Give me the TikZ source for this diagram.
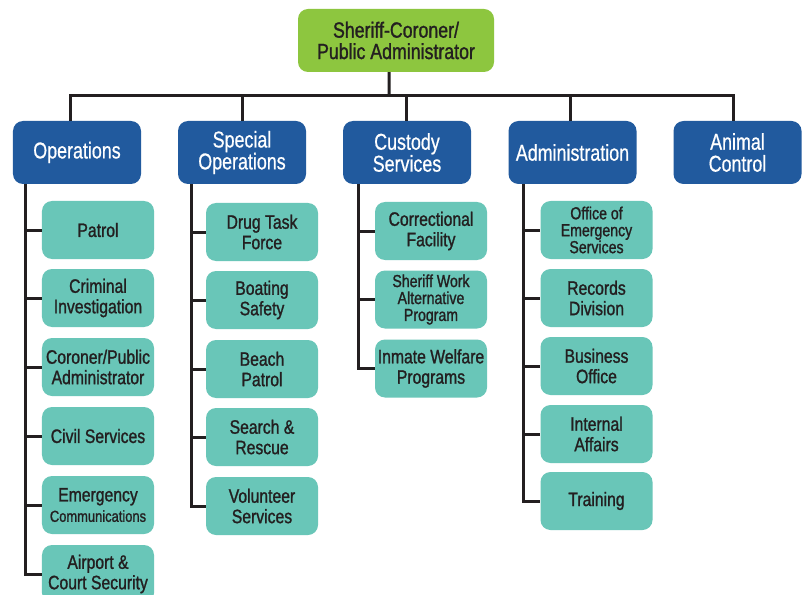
\documentclass[tikz,border=0pt]{standalone}
\usepackage{fontspec}
\setmainfont{Liberation Sans}
\newfontfamily\chfont[FakeStretch=0.81, FakeBold=1.2]{Liberation Sans}
\newfontfamily\hdfont[FakeStretch=0.78, FakeBold=0.6]{Liberation Sans}

\definecolor{verde}{HTML}{8DC63F}
\definecolor{azul}{HTML}{215A9E}
\definecolor{turquesa}{HTML}{69C6B8}
\definecolor{traco}{HTML}{231F20}

\tikzset{
  chefe/.style={fill=verde, rounded corners=10bp, minimum width=196bp, minimum height=63bp,
    inner sep=0pt, align=center, text=traco, font={\chfont\fontsize{22}{21.5}\selectfont}},
  setor/.style={fill=azul, text=white, rounded corners=10bp, minimum width=128bp, minimum height=63bp,
    inner sep=0pt, align=center, font={\hdfont\fontsize{23}{22}\selectfont}},
  unidade/.style={fill=turquesa, rounded corners=10bp, minimum width=112bp, minimum height=58bp,
    inner sep=0pt, align=center, text=traco, font={\chfont\fontsize{19.5}{20.5}\selectfont}},
  miudo/.style={font={\chfont\fontsize{17.5}{17}\selectfont}},
  liga/.style={line width=3bp, draw=traco}
}

\begin{document}
\begin{tikzpicture}[x=1bp, y=-1bp]

\useasboundingbox[fill=white] (0,0) rectangle (803,595);

% Chefia
\node[chefe] (topo) at (396,40.5) {Sheriff-Coroner/\\Public Administrator};

% Setores
\node[setor] (op) at (77,152.5) {Operations};
\node[setor] (so) at (242,152.5) {Special\\Operations};
\node[setor] (cs) at (407,152.5) {Custody\\Services};
\node[setor] (ad) at (572.5,152.5) {Administration};
\node[setor] (ac) at (737.5,152.5) {Animal\\Control};

% Barra principal
\coordinate (barra) at (389,96);
\draw[liga] ([xshift=-7bp]topo.south) -- (barra);
\draw[liga] ([xshift=-7bp]op.north) |- (barra) -| ([xshift=-4bp]ac.north);
\draw[liga] (so.north) -- (so.north |- barra);
\draw[liga] ([xshift=-1bp]cs.north) -- ([xshift=-1bp]cs.north |- barra);
\draw[liga] ([xshift=-2bp]ad.north) -- ([xshift=-2bp]ad.north |- barra);

% Operations
\foreach \i/\y/\txt in {1/230/Patrol, 2/298/{Criminal\\Investigation}, 3/367/{Coroner/Public\\Administrator},
  4/436/{Civil Services}, 5/505/{Emergency\\{\fontsize{16}{16}\selectfont Communications}},
  6/574/{Airport \&\\Court Security}}
  \node[unidade] (op\i) at (98,\y) {\txt};
\coordinate (opx) at ([xshift=13bp]op.south west);
\draw[liga] (opx) |- (op6.west);
\foreach \i in {1,...,5}
  \draw[liga] (opx |- op\i.west) -- (op\i.west);

% Special Operations
\foreach \i/\y/\txt in {1/232/{Drug Task\\Force}, 2/300/{Boating\\Safety}, 3/369/{Beach\\Patrol},
  4/437/{Search \&\\Rescue}, 5/506/{Volunteer\\Services}}
  \node[unidade] (so\i) at (262,\y) {\txt};
\coordinate (sox) at ([xshift=14bp]so.south west);
\draw[liga] (sox) |- (so5.west);
\foreach \i in {1,...,4}
  \draw[liga] (sox |- so\i.west) -- (so\i.west);

% Custody Services
\node[unidade] (cs1) at (431,231) {Correctional\\Facility};
\node[unidade, miudo] (cs2) at (431,299.5) {Sheriff Work\\Alternative\\Program};
\node[unidade] (cs3) at (431,368.5) {Inmate Welfare\\Programs};
\coordinate (csx) at ([xshift=16bp]cs.south west);
\draw[liga] (csx) |- (cs3.west);
\foreach \i in {1,2}
  \draw[liga] (csx |- cs\i.west) -- (cs\i.west);

% Administration
\node[unidade, miudo] (ad1) at (596.5,230) {Office of\\Emergency\\Services};
\foreach \i/\y/\txt in {2/298/{Records\\Division}, 3/366/{Business\\Office}, 4/434/{Internal\\Affairs},
  5/501/Training}
  \node[unidade] (ad\i) at (596.5,\y) {\txt};
\coordinate (adx) at ([xshift=15bp]ad.south west);
\draw[liga] (adx) |- (ad5.west);
\foreach \i in {1,...,4}
  \draw[liga] (adx |- ad\i.west) -- (ad\i.west);

\end{tikzpicture}
\end{document}
